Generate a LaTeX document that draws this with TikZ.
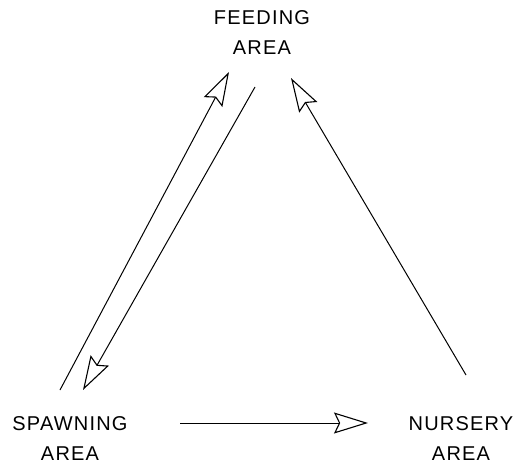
\documentclass[tikz,border=0pt]{standalone}
\usepackage{fontspec}
\newfontfamily\lab[LetterSpace=6]{Liberation Sans}
\usetikzlibrary{arrows.meta}
\begin{document}
\begin{tikzpicture}[x=1pt,y=-1pt,
  lbl/.style={font=\lab\fontsize{20}{30}\selectfont, align=center, inner sep=0pt, anchor=north},
  flow/.style={line width=1pt, -{Stealth[open, length=34pt, width=21pt, inset=5pt, line width=1.1pt]}}]
\useasboundingbox (0,0) rectangle (528,463);
\node[lbl] (feed) at (262,10) {FEEDING\\AREA};
\node[lbl] (spawn) at (70,416) {SPAWNING\\AREA};
\node[lbl] (nurs) at (461,416) {NURSERY\\AREA};
\coordinate (a1) at (60,390);  \coordinate (a1t) at (229,72);
\coordinate (a2) at (255,87);  \coordinate (a2t) at (83,390);
\coordinate (a3) at (466,375); \coordinate (a3t) at (291,78);
\coordinate (a4) at (180,423); \coordinate (a4t) at (368,423);
\draw[flow] (a1) -- (a1t);
\draw[flow] (a2) -- (a2t);
\draw[flow] (a3) -- (a3t);
\draw[flow] (a4) -- (a4t);
\end{tikzpicture}
\end{document}
